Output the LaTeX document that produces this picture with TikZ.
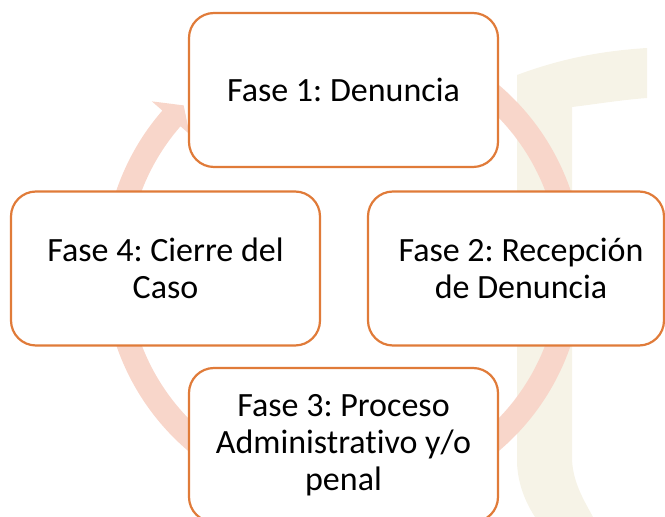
\documentclass[tikz,border=0pt]{standalone}
\usepackage{fontspec}
\setmainfont{Carlito}[Ligatures=NoCommon]
\frenchspacing
\usetikzlibrary{calc}
\definecolor{boxorange}{HTML}{E07B39}
\definecolor{arcpink}{HTML}{F8D6CA}
\definecolor{wmark}{HTML}{F6F3E7}
\tikzset{
  phasefont/.style={align=center, font=\fontsize{34}{37}\selectfont},
  phase/.style={draw=boxorange, line width=2.2pt, fill=white, rounded corners=25pt,
    minimum width=309pt, minimum height=154pt, inner sep=0pt, phasefont},
}
\begin{document}
\begin{tikzpicture}[x=1pt,y=1pt]
\path[use as bounding box] (0,0) rectangle (665,517);
\clip (0,0) rectangle (665,517);
% watermark
\fill[wmark] (517,442) .. controls (560,458) and (600,466) .. (647,469)
  -- (647,419) .. controls (620,417) and (590,412) .. (572,410)
  -- (572,60) .. controls (572,35) and (585,15) .. (593,0)
  -- (535,0) .. controls (522,20) and (517,40) .. (517,57) -- cycle;
% circular arrow
\coordinate (c) at (343.5,249);
\fill[arcpink] ($(c)+(70:240)$) arc[start angle=70, end angle=-221, radius=240]
  -- ($(c)+(-221:254)$) -- ($(c)+(-225.5:228)$) -- ($(c)+(-221:204)$)
  -- ($(c)+(-221:216)$) arc[start angle=-221, end angle=70, radius=216] -- cycle;
% boxes
\node[phase] (b1) at (343.5,427) {Fase 1: Denuncia};
\node[phase, minimum width=296pt,
  label={[phasefont, xshift=5pt]center:Fase 2: Recepción\\de Denuncia}] (b2) at (516,248.5) {};
\node[phase] (b3) at (343.5,72) {Fase 3: Proceso\\Administrativo y/o\\penal};
\node[phase] (b4) at (165.5,248.5) {Fase 4: Cierre del\\Caso};
\end{tikzpicture}
\end{document}
